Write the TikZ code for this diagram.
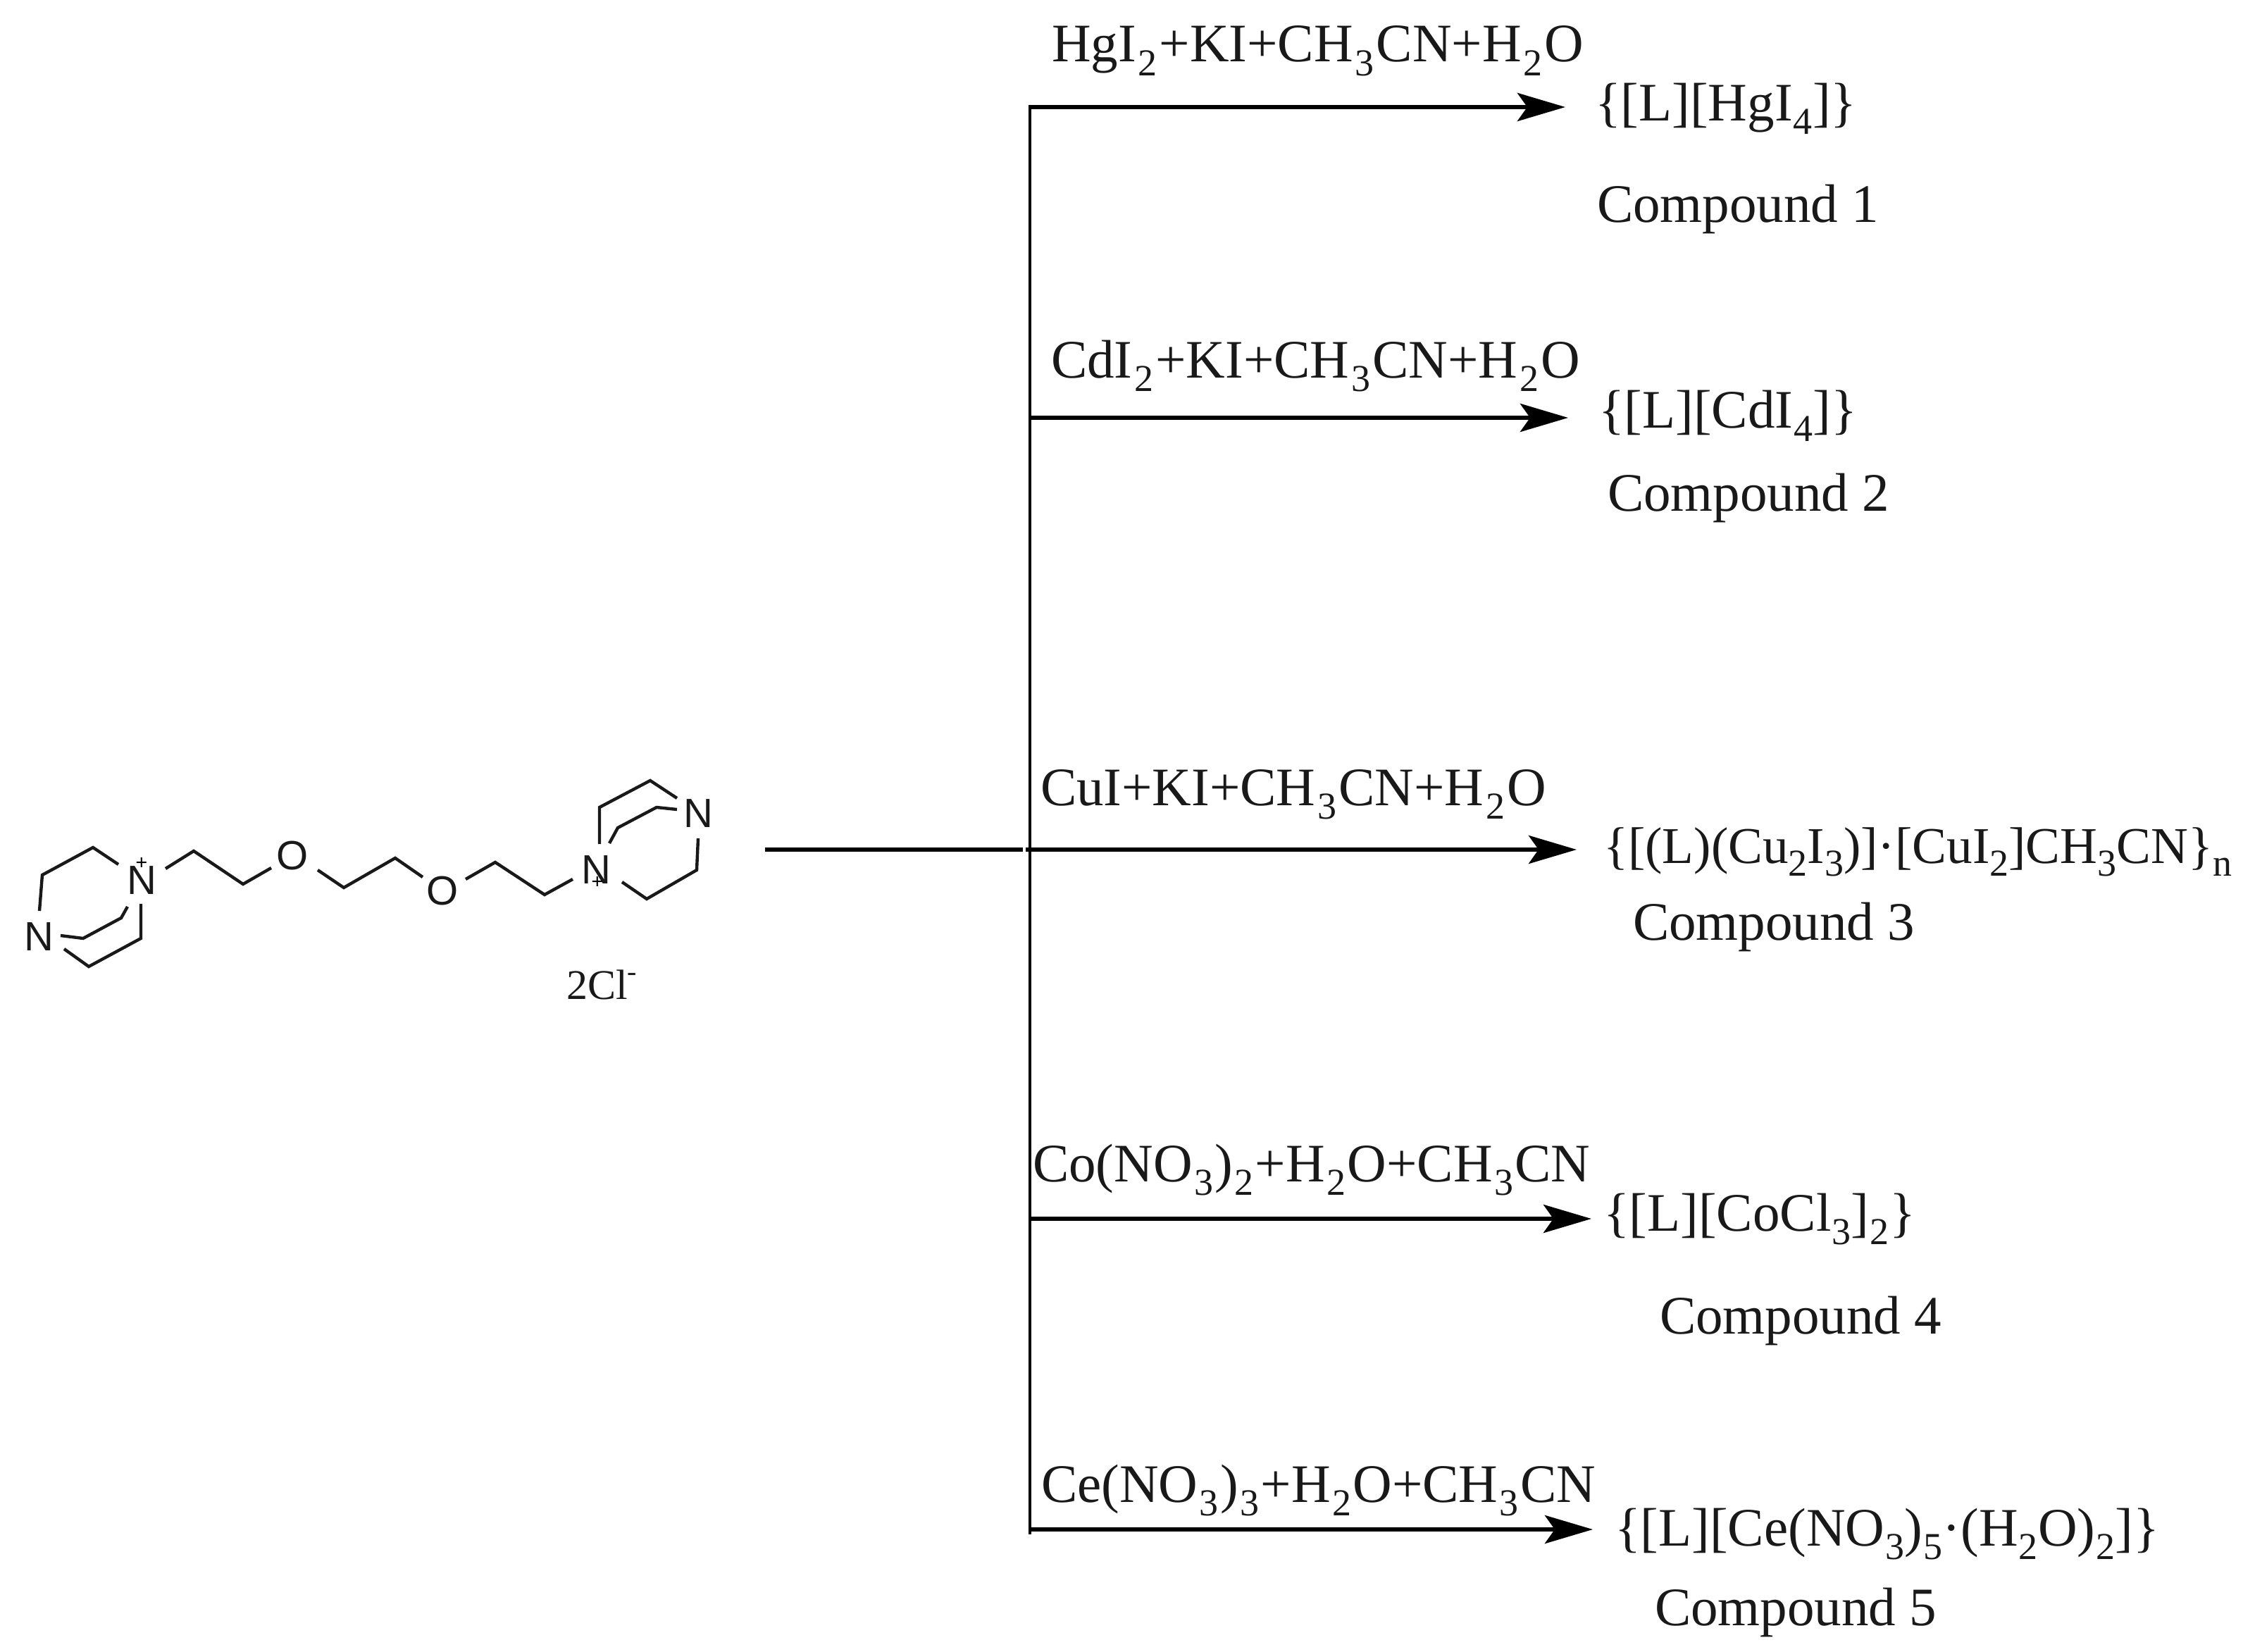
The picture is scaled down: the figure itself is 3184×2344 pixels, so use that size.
\documentclass[tikz,border=0pt]{standalone}
\usepackage{fontspec}
\setmainfont{Liberation Serif}
\newfontfamily\atomfont{Liberation Sans}
\usetikzlibrary{arrows.meta}
\def\subk{0pt}
\newcommand{\sbs}[1]{\kern.5\dimexpr\subk\relax\raisebox{-.25em}{\fontsize{27}{27}\selectfont #1}\kern.5\dimexpr\subk\relax}
\tikzset{
  txt/.style={anchor=base west,inner sep=0pt,outer sep=0pt,font=\fontsize{38.5}{40}\selectfont,text=black!90},
  lbl/.style={txt,font=\fontsize{38.5}{40}\selectfont\def\subk{3pt}},
  lblb/.style={txt,font=\fontsize{38.5}{40}\selectfont\def\subk{2.4pt}},
  prod/.style={txt,font=\fontsize{38.5}{40}\selectfont\def\subk{.7pt}},
  atom/.style={inner sep=0pt,outer sep=0pt,font=\atomfont\fontsize{29}{30}\selectfont,text=black!90},
  chg/.style={inner sep=0pt,outer sep=0pt,font=\fontsize{15}{16}\selectfont\bfseries},
  bond/.style={line width=2.2pt,line join=miter,black!90},
  rxn/.style={line width=2.9pt,black,-{Stealth[length=34pt,width=20pt,inset=7pt]}},
  spine/.style={line width=2.1pt,black},
}
\begin{document}
\begin{tikzpicture}[x=.5pt,y=-.5pt]
\useasboundingbox (0,0) rectangle (3184,2344);
% spine and arrows
\coordinate (j1) at (1462,152);
\coordinate (j2) at (1462,593);
\coordinate (j3) at (1456,1206);
\coordinate (j4) at (1462,1730);
\coordinate (j5) at (1462,2171);
\coordinate (jb) at (1462,2178);
\coordinate (e1) at (2222,152);
\coordinate (e2) at (2226,593);
\coordinate (e3) at (2238,1206);
\coordinate (e4) at (2259,1730);
\coordinate (e5) at (2261,2171);
\coordinate (s3) at (1086,1206);
\coordinate (g3) at (1452,1206);
\draw[spine] ([yshift=1.4pt]j1) -- (jb);
\draw[rxn] ([xshift=-1pt]j1) -- (e1);
\draw[rxn] (j2) -- (e2);
\draw[rxn] (j3) -- (e3);
\draw[rxn] (j4) -- (e4);
\draw[rxn] (j5) -- (e5);
\draw[line width=2.9pt] (s3) -- (g3);
% labels
\node[lbl] (r1) at (1493,88) {HgI\sbs{2}+KI+CH\sbs{3}CN+H\sbs{2}O};
\node[lbl] (r2) at (1492,536) {CdI\sbs{2}+KI+CH\sbs{3}CN+H\sbs{2}O};
\node[lbl] (r3) at (1477,1143) {CuI+KI+CH\sbs{3}CN+H\sbs{2}O};
\node[lblb] (r4) at (1466,1677) {Co(NO\sbs{3})\sbs{2}+H\sbs{2}O+CH\sbs{3}CN};
\node[lblb] (r5) at (1478,2132) {Ce(NO\sbs{3})\sbs{3}+H\sbs{2}O+CH\sbs{3}CN};
\node[prod] (p1) at (2264,171) {\{[L][HgI\sbs{4}]\}};
\node[prod] (p2) at (2269,607) {\{[L][CdI\sbs{4}]\}};
\node[txt,font=\fontsize{36.6}{40}\selectfont] (p3) at (2276,1225) {\{[(L)(Cu\sbs{2}I\sbs{3})]·[CuI\sbs{2}]CH\sbs{3}CN\}\sbs{n}};
\node[prod] (p4) at (2276,1747) {\{[L][CoCl\sbs{3}]\sbs{2}\}};
\node[prod] (p5) at (2292,2194) {\{[L][Ce(NO\sbs{3})\sbs{5}·(H\sbs{2}O)\sbs{2}]\}};
\node[txt] (c1) at (2267,315) {Compound 1};
\node[txt] (c2) at (2282,725) {Compound 2};
\node[txt] (c3) at (2318,1334) {Compound 3};
\node[txt] (c4) at (2356,1893) {Compound 4};
\node[txt] (c5) at (2349,2307) {Compound 5};
% molecule
\node[atom] (n1) at (201,1250) {N};
\node[atom] (n2) at (55,1330) {N};
\node[atom] (o1) at (415,1215) {O};
\node[atom] (o2) at (628,1265) {O};
\node[atom] (n3) at (846,1235) {N};
\node[atom] (n4) at (991,1155) {N};
\node[chg] (q1) at (201,1226) {+};
\node[chg] (q2) at (848,1253) {+};
\draw[bond] (168,1227) -- (132,1203) -- (60,1242) -- (56,1293);
\draw[bond] (91,1347) -- (126,1372) -- (200,1332) -- (200,1283);
\draw[bond] (181,1287) -- (172,1303) -- (118,1332) -- (86,1328);
\draw[bond] (235,1233) -- (275,1208) -- (345,1255) -- (385,1232);
\draw[bond] (451,1235) -- (488,1260) -- (561,1218) -- (600,1245);
\draw[bond] (661,1248) -- (703,1224) -- (773,1270) -- (813,1248);
\draw[bond] (883,1252) -- (918,1276) -- (989,1235) -- (991,1190);
\draw[bond] (961,1133) -- (923,1108) -- (851,1146) -- (851,1198);
\draw[bond] (865,1197) -- (877,1175) -- (932,1146) -- (961,1149);
\node[txt,font=\fontsize{30}{32}\selectfont] (cl) at (804,1418) {2Cl\raisebox{.42em}{\fontsize{20}{20}\selectfont -}};
\end{tikzpicture}
\end{document}
